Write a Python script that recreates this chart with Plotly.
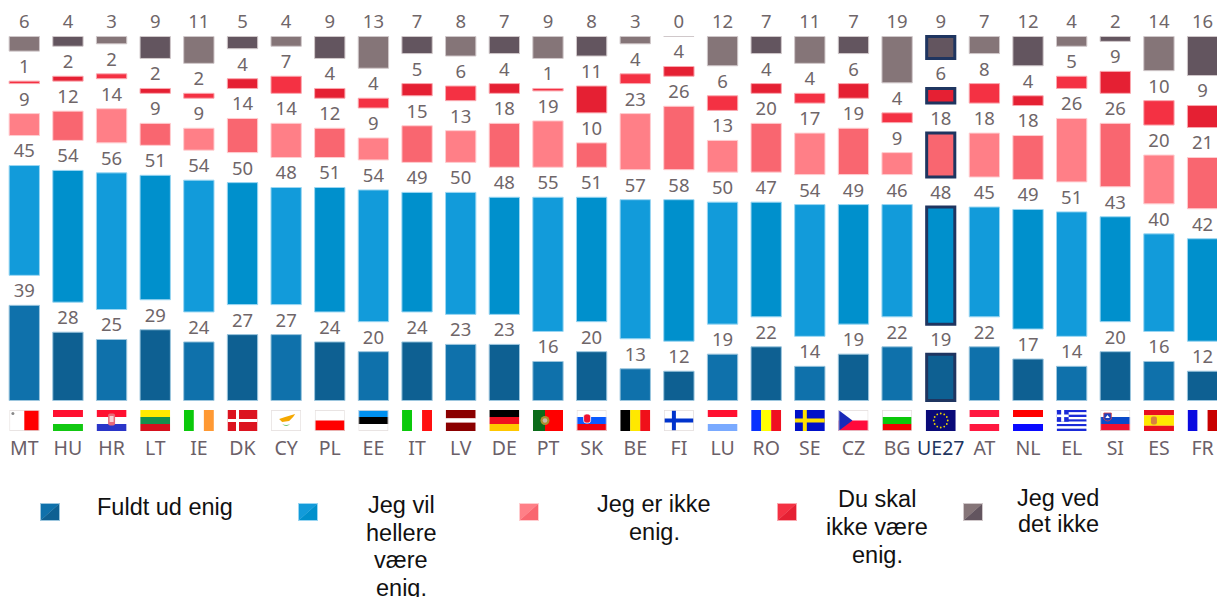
import base64, math
import numpy as np
import plotly.graph_objects as go

countries = ["MT","HU","HR","LT","IE","DK","CY","PL","EE","IT","LV","DE","PT","SK","BE","FI","LU","RO","SE","CZ","BG","UE27","AT","NL","EL","SI","ES","FR"]
fully_agree   = [39,28,25,29,24,27,27,24,20,24,23,23,16,20,13,12,19,22,14,19,22,19,22,17,14,20,16,12]
rather_agree  = [45,54,56,51,54,50,48,51,54,49,50,48,55,51,57,58,50,47,54,49,46,48,45,49,51,43,40,42]
rather_not    = [9,12,14,9,9,14,14,12,9,15,13,18,19,10,23,26,13,20,17,19,9,18,18,18,26,26,20,21]
not_agree     = [1,2,2,2,2,4,7,4,4,5,6,4,1,11,4,4,6,4,4,6,4,6,8,4,5,9,10,9]
dont_know     = [6,4,3,9,11,5,4,9,13,7,8,7,9,8,3,0,12,7,11,7,19,9,7,12,4,2,14,16]

series_values = [fully_agree, rather_agree, rather_not, not_agree, dont_know]
series_names = ["Fuldt ud enig", "Jeg vil hellere være enig.", "Jeg er ikke enig.", "Du skal ikke være enig.", "Jeg ved det ikke"]
colors_light = ["#0F71AB", "#129BDA", "#FF7F87", "#F43143", "#857578"]
colors_dark  = ["#0E6092", "#0090CC", "#F96670", "#E52033", "#63555F"]
edge_colors  = ["#9CC6DE", "#9AD6F2", "#FFCDD0", "#FAA8AF", "#D0C8CA"]
highlight = "UE27"
highlight_color = "#1F3560"

legend_lines = [["Fuldt ud enig"], ["Jeg vil", "hellere", "være", "enig."], ["Jeg er ikke", "enig."], ["Du skal", "ikke være", "enig."], ["Jeg ved", "det ikke"]]
legend_text_x = [165, 401, 654, 877, 1058]
legend_text_y = [507, 505, 504, 499, 498]
legend_line_h = [27, 27.5, 28, 28, 26]
legend_swatch_x = [40, 298, 519, 777, 963]

W, H = 1217, 597
PITCH = 43.64
X0 = 24.3
Y0 = 400.5
PX_PER_UNIT = 2.44
GAP = 30 / PX_PER_UNIT

def stripes_h(cols, weights=None):
    weights = weights or [1] * len(cols)
    t = sum(weights); y = 0; out = ""
    for c, w in zip(cols, weights):
        h = 21 * w / t
        out += f'<rect x="0" y="{y:.2f}" width="30" height="{h + 0.05:.2f}" fill="{c}"/>'
        y += h
    return out

def stripes_v(cols, weights=None):
    weights = weights or [1] * len(cols)
    t = sum(weights); x = 0; out = ""
    for c, w in zip(cols, weights):
        d = 30 * w / t
        out += f'<rect x="{x:.2f}" y="0" width="{d + 0.05:.2f}" height="21" fill="{c}"/>'
        x += d
    return out

def cross(bg, fg, vx=9, vw=4, hy=8.5, hh=4):
    return (f'<rect width="30" height="21" fill="{bg}"/><rect x="{vx}" width="{vw}" height="21" fill="{fg}"/>'
            f'<rect y="{hy}" width="30" height="{hh}" fill="{fg}"/>')

def eu_stars():
    s = '<rect width="30" height="21" fill="#0A0A78"/>'
    for k in range(12):
        a = k * math.pi / 6
        s += f'<circle cx="{15 + 7 * math.cos(a):.2f}" cy="{10.5 + 7 * math.sin(a):.2f}" r="0.9" fill="#E8D400"/>'
    return s

BORDER = '<rect x="0.4" y="0.4" width="29.2" height="20.2" fill="none" stroke="#E4DEDD" stroke-width="0.8"/>'
WHITE = "#FFFFFF"
flags = {
 "MT": stripes_v([WHITE, "#FF0000"]) + '<circle cx="3.6" cy="3.4" r="1.5" fill="#888"/>' + BORDER,
 "HU": stripes_h(["#FF1030", WHITE, "#12C812"]),
 "HR": stripes_h(["#FF1030", WHITE, "#2A35C8"]) + '<rect x="11.5" y="3.5" width="7" height="12" rx="2" fill="#E86A78"/><rect x="13" y="6" width="4" height="6" fill="#F7D0D4"/>',
 "LT": stripes_h(["#FFEA00", "#14904E", "#D5111D"]),
 "IE": stripes_v(["#0BC90B", WHITE, "#FF9933"]),
 "DK": cross("#DC1420", WHITE, 8.5, 3, 9, 3),
 "CY": f'<rect width="30" height="21" fill="{WHITE}"/><path d="M8 9 L14 7 L24 4 L22 7 L18 11 L11 12 Z" fill="#F5A800"/><path d="M11 14 Q15 18 19 14 Q15 16 11 14 Z" fill="#6CC36C"/>' + BORDER,
 "PL": stripes_h([WHITE, "#FF0000"]) + BORDER,
 "EE": stripes_h(["#0090F0", "#000000", WHITE]) + BORDER,
 "IT": stripes_v(["#0BC90B", WHITE, "#FF1010"]),
 "LV": stripes_h(["#8B0000", WHITE, "#8B0000"], [8, 4, 8]),
 "DE": stripes_h(["#000000", "#F01020", "#FFC800"]),
 "PT": stripes_v(["#0B6B1A", "#FF0000"], [2, 3]) + '<circle cx="12" cy="10.5" r="4.5" fill="#A89030"/><circle cx="12" cy="10.5" r="2.3" fill="#C8B8A8"/>',
 "SK": stripes_h([WHITE, "#0A5AFF", "#F00010"]) + '<rect x="7" y="4" width="7" height="9" rx="2.5" fill="#F01030" stroke="#fff" stroke-width="0.8"/>' + BORDER,
 "BE": stripes_v(["#000000", "#FFE800", "#F0101A"]),
 "FI": cross(WHITE, "#0033CC", 8, 4, 8.5, 4) + BORDER,
 "LU": stripes_h(["#FF1030", WHITE, "#7AAAFF"]),
 "RO": stripes_v(["#0A32FF", "#FFFF00", "#F01020"]),
 "SE": cross("#0010C8", "#FFE000", 8, 4, 8.5, 4),
 "CZ": stripes_h([WHITE, "#FF0A3C"]) + '<path d="M0 0 L14 10.5 L0 21 Z" fill="#1A2AB8"/>' + BORDER,
 "BG": stripes_h([WHITE, "#0AC80A", "#F00000"]) + BORDER,
 "UE27": eu_stars(),
 "AT": stripes_h(["#FF1840", WHITE, "#FF1840"]),
 "NL": stripes_h(["#FF0000", WHITE, "#0A0AFF"]),
 "EL": stripes_h(["#1A2AD8", WHITE] * 4 + ["#1A2AD8"]) + '<rect width="12" height="11.7" fill="#1A2AD8"/><rect x="4.5" width="3" height="11.7" fill="#fff"/><rect y="4.5" width="12" height="2.6" fill="#fff"/>',
 "SI": stripes_h([WHITE, "#0A4AC8", "#F01030"]) + '<path d="M3.5 3 H11 V9 Q7.2 13 3.5 9 Z" fill="#1A40C0" stroke="#E04040" stroke-width="0.8"/><path d="M5 8 L7.2 5 L9.5 8 Z" fill="#fff"/>' + BORDER,
 "ES": stripes_h(["#E8101E", "#FFE800", "#E8101E"], [1, 2, 1]) + '<rect x="7" y="6.5" width="6" height="8" rx="2" fill="#D88040"/>',
 "FR": stripes_v(["#0A0AE0", WHITE, "#C80000"]),
}

def svg_uri(body, w=30, h=21):
    svg = f'<svg xmlns="http://www.w3.org/2000/svg" width="{w}" height="{h}" viewBox="0 0 {w} {h}" preserveAspectRatio="none">{body}</svg>'
    return "data:image/svg+xml;base64," + base64.b64encode(svg.encode()).decode()

n = len(countries)
x = list(range(n))
fig = go.Figure()
base = np.zeros(n)
hi = countries.index(highlight)
for s, vals in enumerate(series_values):
    fills = [colors_light[s] if i % 2 == 0 else colors_dark[s] for i in x]
    lines = [edge_colors[s]] * n
    lw = [1] * n
    widths = [0.695] * n
    lines[hi] = highlight_color; lw[hi] = 3; widths[hi] = 0.645
    fig.add_trace(go.Bar(x=x, y=vals, base=base.tolist(), name=series_names[s], width=widths,
                         marker=dict(color=fills, line=dict(color=lines, width=lw)), showlegend=False))
    tops = base + np.array(vals)
    fig.add_trace(go.Scatter(x=x, y=(tops + 1.4).tolist(), mode="text", text=[str(v) for v in vals],
                             textposition="top center", cliponaxis=False, showlegend=False, hoverinfo="skip",
                             textfont=dict(family="Noto Sans", size=18.5, color="#6F6669")))
    base = tops + GAP

images = []
for i, c in enumerate(countries):
    images.append(dict(source=svg_uri(flags[c]), xref="x", yref="y", x=i, y=(Y0 - 410) / PX_PER_UNIT,
                       sizex=30 / PITCH, sizey=21 / PX_PER_UNIT, xanchor="center", yanchor="top",
                       sizing="stretch", layer="above"))
for s, sx in enumerate(legend_swatch_x):
    body = (f'<rect width="20" height="18" fill="{edge_colors[s]}"/>'
            f'<path d="M1 1 H19 L1 17 Z" fill="{colors_light[s]}"/><path d="M19 1 V17 H1 Z" fill="{colors_dark[s]}"/>')
    images.append(dict(source=svg_uri(body, 20, 18), xref="paper", yref="paper", x=sx / W, y=1 - 503 / H,
                       sizex=20 / W, sizey=18 / H, xanchor="left", yanchor="top", sizing="stretch", layer="above"))

annotations = []
for lines_, tx, ty, lh in zip(legend_lines, legend_text_x, legend_text_y, legend_line_h):
    for k, t in enumerate(lines_):
        annotations.append(dict(text=t, xref="paper", yref="paper", x=tx / W, y=1 - (ty + k * lh) / H,
                                xanchor="center", yanchor="middle", showarrow=False,
                                font=dict(family="Liberation Sans", size=23.5, color="#111111")))

ticktext = [f'<span style="color:{highlight_color}">{c}</span>' if c == highlight else c for c in countries]
fig.update_layout(
    width=W, height=H, margin=dict(l=0, r=0, t=0, b=0), paper_bgcolor="white", plot_bgcolor="white",
    barmode="overlay", images=images, annotations=annotations, showlegend=False,
    xaxis=dict(range=[-X0 / PITCH, (W - X0) / PITCH], tickmode="array", tickvals=x, ticktext=ticktext,
               showgrid=False, zeroline=False, showline=False, ticks="", anchor="free", position=1 - 434.5 / H,
               tickfont=dict(family="Noto Sans", size=19.5, color="#6B6068"), tickangle=0),
    yaxis=dict(range=[(Y0 - H) / PX_PER_UNIT, Y0 / PX_PER_UNIT], visible=False, showgrid=False, zeroline=False),
)
fig.write_html("out.html", config={"displayModeBar": False},
               post_script="document.body.style.margin='0';document.documentElement.style.overflow='hidden';")
